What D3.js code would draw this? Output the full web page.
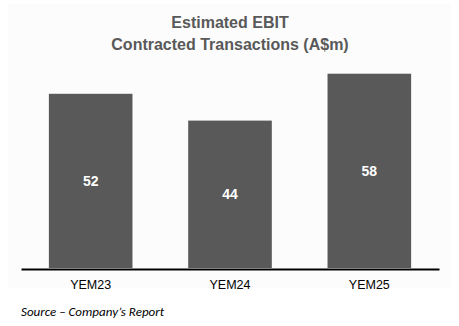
<!DOCTYPE html>
<html><head><meta charset="utf-8">
<script src="https://cdn.jsdelivr.net/npm/d3@7"></script>
<style>body{margin:0;background:#fff}svg{display:block}</style>
</head><body>
<script>
const categories = ["YEM23", "YEM24", "YEM25"];
const values = [52, 44, 58];
const titleLines = ["Estimated EBIT", "Contracted Transactions (A$m)"];
const sourceText = "Source \u2013 Company\u2019s Report";

const W = 459, H = 326;
const svg = d3.select("body").append("svg").attr("width", W).attr("height", H);
svg.append("rect").attr("x", 8).attr("y", 4).attr("width", 443).attr("height", 284).attr("fill", "#fcfcfc");

const x = d3.scaleBand().domain(categories).range([21, 439]).paddingInner(0.4).paddingOuter(0.2);
const y = d3.scaleLinear().domain([0, 60]).range([268, 67]);

svg.selectAll("text.title").data(titleLines).enter().append("text")
  .attr("x", 230).attr("y", (d, i) => 28 + i * 22)
  .attr("text-anchor", "middle")
  .attr("font-family", "Liberation Sans, Arial, sans-serif")
  .attr("font-weight", "bold").attr("font-size", 16)
  .attr("fill", "#595959").text(d => d);

svg.selectAll("rect.bar").data(values).enter().append("rect")
  .attr("x", (d, i) => x(categories[i]))
  .attr("y", d => y(d))
  .attr("width", x.bandwidth())
  .attr("height", d => y(0) - y(d))
  .attr("fill", "#595959");

svg.selectAll("text.val").data(values).enter().append("text")
  .attr("x", (d, i) => x(categories[i]) + x.bandwidth() / 2)
  .attr("y", d => (y(d) + y(0)) / 2 + 5)
  .attr("text-anchor", "middle")
  .attr("font-family", "Liberation Sans, Arial, sans-serif")
  .attr("font-weight", "bold").attr("font-size", 14)
  .attr("fill", "#fff").text(d => d);

const axis = svg.append("g").attr("transform", "translate(0,269)")
  .call(d3.axisBottom(x).tickSize(0).tickPadding(11));
axis.select(".domain").attr("stroke", "#000").attr("stroke-width", 2);
axis.selectAll("text").attr("font-family", "Liberation Sans, Arial, sans-serif")
  .attr("font-size", 12.5).attr("fill", "#000");

svg.append("text").attr("x", 21).attr("y", 316)
  .attr("font-family", "Calibri, Carlito, Liberation Sans, sans-serif")
  .attr("font-style", "italic").attr("font-size", 13)
  .attr("fill", "#000").text(sourceText);
</script>
</body></html>
